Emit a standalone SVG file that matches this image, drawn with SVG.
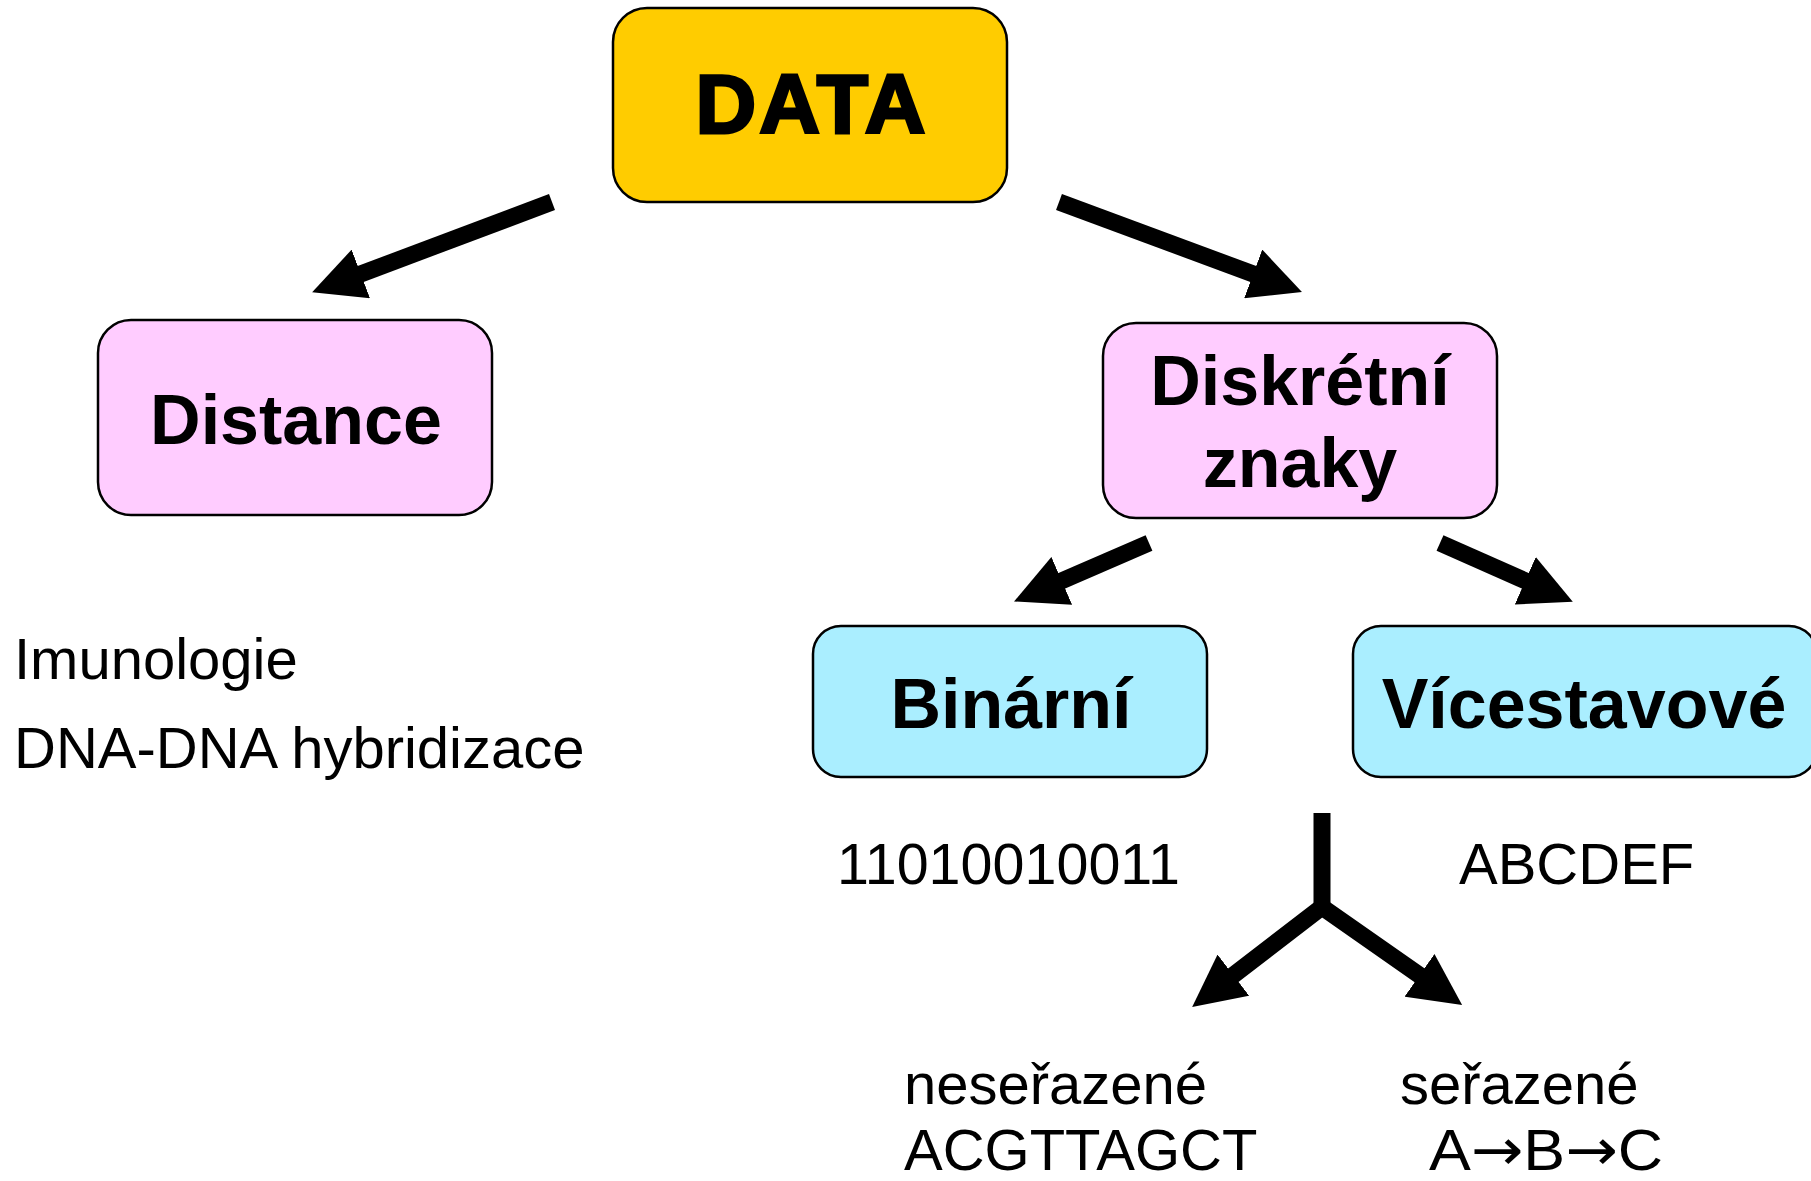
<svg xmlns="http://www.w3.org/2000/svg" width="1811" height="1181" viewBox="0 0 1811 1181">
<style>
  .box { stroke: #000; stroke-width: 2.5; }
  .data { fill: #FFCC00; }
  .pink { fill: #FFCCFF; }
  .cyan { fill: #AAEEFF; }
  .lbl { font-family: "Liberation Sans", Arial, sans-serif; font-weight: bold; font-size: 70px; fill: #000; text-anchor: middle; }
  .big { font-size: 84px; stroke: #000; stroke-width: 3; letter-spacing: 3px; }
  .txt { font-family: "Liberation Sans", Arial, sans-serif; font-size: 58px; fill: #000; }
  .sym { font-family: "DejaVu Sans", sans-serif; }
  .arr { fill: none; stroke: #000; stroke-width: 17; stroke-linecap: butt; stroke-linejoin: miter; }
</style>
<defs>
  <marker id="ah" viewBox="0 0 52 52" markerUnits="userSpaceOnUse" markerWidth="52" markerHeight="52" refX="3" refY="26" orient="auto-start-reverse">
    <path d="M0,0 L52,26 L0,52 z" fill="#000"/>
  </marker>
</defs>
<rect width="1811" height="1181" fill="#fff"/>

<g id="connectors">
  <path class="arr" d="M552,202 L358,275" marker-end="url(#ah)"/>
  <path class="arr" d="M1059,202 L1256,275" marker-end="url(#ah)"/>
  <path class="arr" d="M1149,543 L1059,582" marker-end="url(#ah)"/>
  <path class="arr" d="M1440,543 L1528,582" marker-end="url(#ah)"/>
  <path class="arr" d="M1322,813 L1322,908"/>
  <path class="arr" d="M1231,977 L1322,907 L1422,977" marker-start="url(#ah)" marker-end="url(#ah)"/>
</g>

<g id="node-data">
  <rect class="box data" x="613" y="8" width="394" height="194" rx="34" ry="34"/>
  <text class="lbl big" x="812" y="133">DATA</text>
</g>
<g id="node-distance">
  <rect class="box pink" x="98" y="320" width="394" height="195" rx="33" ry="33"/>
  <text class="lbl" x="296" y="444">Distance</text>
</g>
<g id="node-diskretni">
  <rect class="box pink" x="1103" y="323" width="394" height="195" rx="33" ry="33"/>
  <text class="lbl" x="1300" y="405">Diskrétní</text>
  <text class="lbl" x="1300" y="487">znaky</text>
</g>
<g id="node-binarni">
  <rect class="box cyan" x="813" y="626" width="394" height="151" rx="28" ry="28"/>
  <text class="lbl" x="1011" y="728">Binární</text>
</g>
<g id="node-vicestavove">
  <rect class="box cyan" x="1353" y="626" width="464" height="151" rx="28" ry="28"/>
  <text class="lbl" x="1584" y="728">Vícestavové</text>
</g>

<g id="labels">
  <text class="txt" x="14" y="679">Imunologie</text>
  <text class="txt" x="14" y="768">DNA-DNA hybridizace</text>
  <text class="txt" x="837" y="884" textLength="343" lengthAdjust="spacingAndGlyphs">11010010011</text>
  <text class="txt" x="1459" y="884">ABCDEF</text>
  <text class="txt" x="904" y="1104">neseřazené</text>
  <text class="txt" x="904" y="1170">ACGTTAGCT</text>
  <text class="txt" x="1400" y="1104">seřazené</text>
  <text class="txt" x="1429" y="1170" textLength="234" lengthAdjust="spacingAndGlyphs">A<tspan class="sym">→</tspan>B<tspan class="sym">→</tspan>C</text>
</g>
</svg>
